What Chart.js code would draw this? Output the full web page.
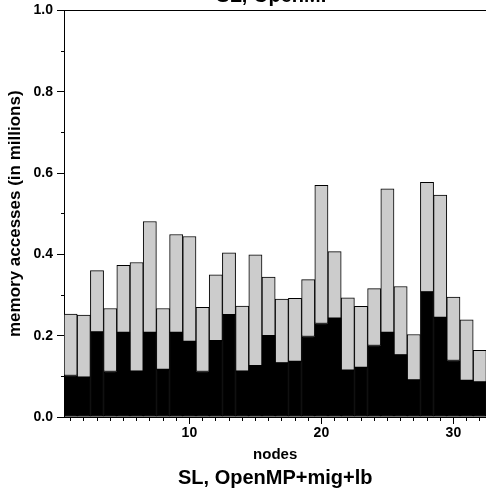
<!DOCTYPE html>
<html><head><meta charset="utf-8">
<script src="https://cdn.jsdelivr.net/npm/chart.js@4"></script>
<style>
html,body{margin:0;padding:0;overflow:hidden;background:#fff;width:486px;height:493px}
#wrap{position:absolute;left:0;top:-20px;width:488px;height:513px}
</style></head>
<body><div id="wrap"><canvas id="c" width="488" height="513"></canvas></div>
<script>
const nodes = [1,2,3,4,5,6,7,8,9,10,11,12,13,14,15,16,17,18,19,20,21,22,23,24,25,26,27,28,29,30,31,32];
const darkValues = [0.102,0.098,0.209,0.112,0.208,0.113,0.208,0.117,0.208,0.186,0.112,0.188,0.252,0.113,0.126,0.200,
                    0.133,0.137,0.198,0.230,0.243,0.115,0.122,0.176,0.208,0.153,0.091,0.308,0.245,0.139,0.090,0.086];
const lightValues = [0.151,0.153,0.151,0.155,0.165,0.267,0.273,0.150,0.241,0.258,0.158,0.162,0.152,0.160,0.273,0.144,
                     0.157,0.155,0.140,0.340,0.164,0.178,0.150,0.140,0.353,0.168,0.112,0.269,0.301,0.156,0.149,0.078];
const xTickLabels = [10, 20, 30];
const yTickLabels = ['0.0','0.2','0.4','0.6','0.8','1.0'];

const FONT = "'Liberation Sans', Arial, Helvetica, sans-serif";
const isMajorY = v => yTickLabels.includes(Number(v).toFixed(1));
const isMajorX = i => xTickLabels.includes(nodes[i]);

new Chart(document.getElementById('c'), {
  type: 'bar',
  data: {
    labels: nodes.map(String),
    datasets: [
      { data: darkValues, backgroundColor: '#000000', borderColor: '#000000', borderWidth: 1, borderSkipped: false },
      { data: lightValues, backgroundColor: '#cccccc', borderColor: '#000000', borderWidth: 1, borderSkipped: false }
    ]
  },
  options: {
    responsive: false,
    animation: false,
    layout: { padding: { left: 0, right: 1.6, top: 0, bottom: 0 } },
    datasets: { bar: { categoryPercentage: 1.0, barPercentage: 1.0 } },
    plugins: {
      legend: { display: false },
      tooltip: { enabled: false },
      title: {
        display: true, text: 'SL, OpenMP', fullSize: false, color: '#000',
        font: { family: FONT, size: 20, weight: 'bold', lineHeight: 1.2 },
        padding: { top: 4.5, bottom: 2 }
      },
      subtitle: {
        display: true, position: 'bottom', text: 'SL, OpenMP+mig+lb', fullSize: false, color: '#000',
        font: { family: FONT, size: 20, weight: 'bold', lineHeight: 1.2 },
        padding: { top: 1, bottom: 3 }
      }
    },
    scales: {
      x: {
        stacked: true,
        position: 'bottom',
        grid: {
          display: true, drawOnChartArea: false, offset: false, tickLength: 7,
          color: '#000', tickColor: '#000', tickWidth: 1,
          tickBorderDash: ctx => isMajorX(ctx.index) ? [] : [3, 100]
        },
        border: { display: true, color: '#000', width: 1 },
        ticks: {
          autoSkip: false, maxRotation: 0, minRotation: 0, padding: 1, color: '#000',
          font: { family: FONT, size: 14, weight: 'bold' },
          callback: (v, i) => isMajorX(i) ? String(nodes[i]) : ''
        },
        title: {
          display: true, text: 'nodes', color: '#000',
          font: { family: FONT, size: 15, weight: 'bold', lineHeight: 1.2 },
          padding: { top: 0, bottom: 1 }
        },
        afterFit: s => { s.height = 48; }
      },
      xTop: {
        type: 'category',
        position: 'top',
        grid: { display: true, drawOnChartArea: false, drawTicks: false, color: '#000' },
        border: { display: true, color: '#000', width: 1 },
        ticks: { display: false },
        afterFit: s => { s.height = 0; }
      },
      y: {
        stacked: true, min: 0, max: 1, position: 'left',
        grid: {
          display: true, drawOnChartArea: false, tickLength: 7,
          color: '#000', tickColor: '#000', tickWidth: 1,
          tickBorderDash: ctx => (ctx.tick && isMajorY(ctx.tick.value)) ? [] : [0, 4, 3, 100]
        },
        border: { display: true, color: '#000', width: 1 },
        ticks: {
          stepSize: 0.1, padding: 4, color: '#000',
          font: { family: FONT, size: 14, weight: 'bold' },
          callback: v => isMajorY(v) ? Number(v).toFixed(1) : ''
        },
        title: {
          display: true, text: 'memory accesses (in millions)', color: '#000',
          font: { family: FONT, size: 17, weight: 'bold', lineHeight: 1.2 },
          padding: { top: 5, bottom: 0 }
        },
        afterFit: s => { s.width = 64; }
      }
    }
  }
});
</script>
</body></html>
